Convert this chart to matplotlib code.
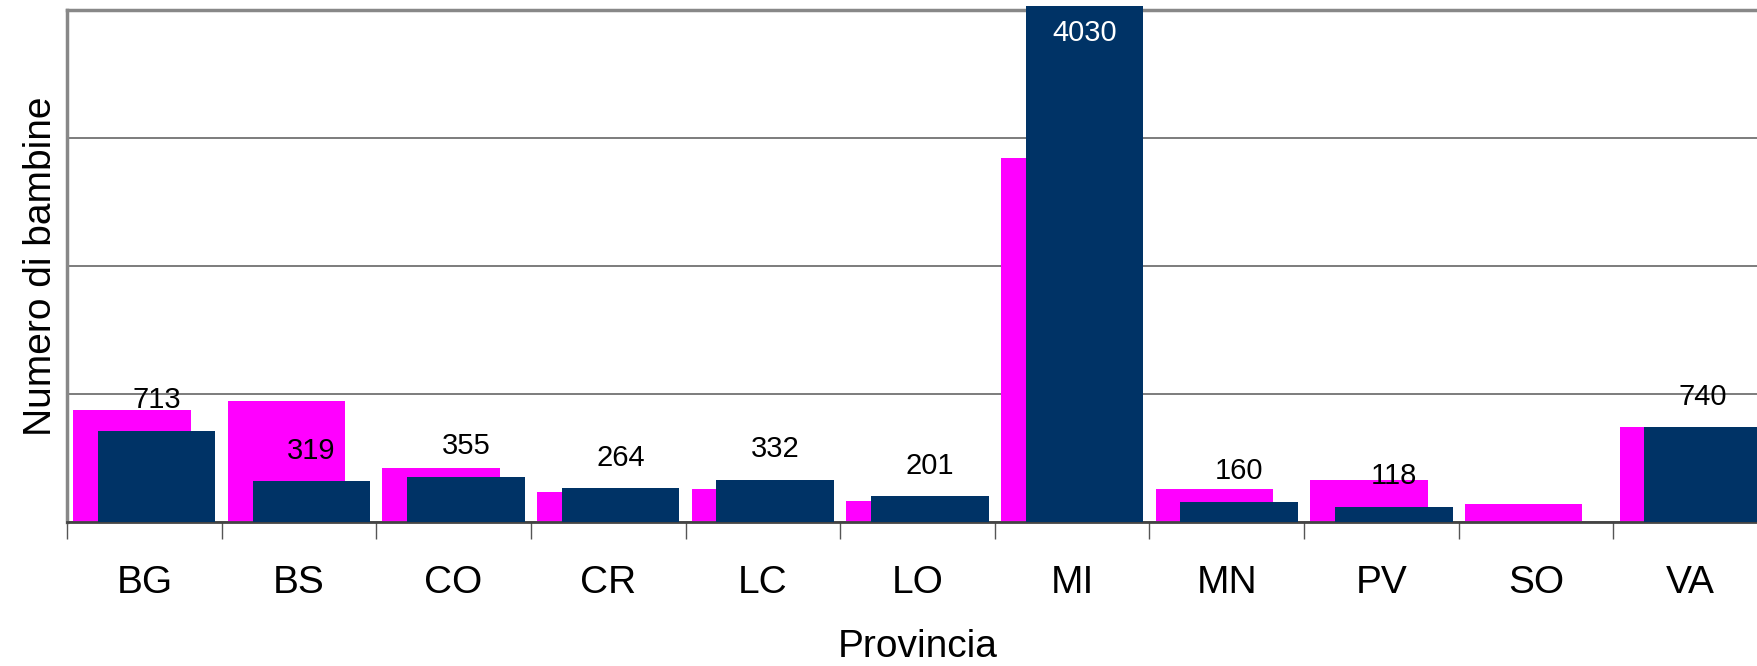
import numpy as np
import matplotlib
matplotlib.use("Agg")
import matplotlib.pyplot as plt

plt.rcParams['font.family'] = ['Liberation Sans', 'DejaVu Sans']

# dati
province = ['BG', 'BS', 'CO', 'CR', 'LC', 'LO', 'MI', 'MN', 'PV', 'SO', 'VA']
serie_magenta = [875, 947, 424, 235, 260, 162, 2842, 260, 330, 142, 740]
serie_blu = [713, 319, 355, 264, 332, 201, 4030, 160, 118, 0, 740]
etichette_blu = ['713', '319', '355', '264', '332', '201', '4030', '160', '118', '', '740']

y_max = 4000
y_step = 1000

fig = plt.figure(figsize=(17.58, 6.66), dpi=100)
ax = fig.add_axes([67 / 1758, 144 / 666, 1701 / 1758, 512 / 666])

x = np.arange(len(province))
w = 0.76
off = 0.08

ax.bar(x - off, serie_magenta, width=w, color='#FF00FF', zorder=2)
bars = ax.bar(x + off, serie_blu, width=w, color='#003366', zorder=3, clip_on=False)

for b, v, txt in zip(bars, serie_blu, etichette_blu):
    if not txt:
        continue
    cx = b.get_x() + b.get_width() / 2
    if v > y_max * 0.95:
        ax.annotate(txt, (cx, v), xytext=(0, -19), textcoords='offset points',
                    ha='center', va='center', fontsize=21, color='white', zorder=4,
                    annotation_clip=False)
    else:
        ax.annotate(txt, (cx, v), xytext=(0, 22), textcoords='offset points',
                    ha='center', va='center', fontsize=21, color='black', zorder=4)

ax.set_xlim(-0.5, len(province) - 0.5)
ax.set_ylim(0, y_max)

ax.set_yticks(np.arange(0, y_max + 1, y_step))
ax.yaxis.grid(True, color='#666666', linewidth=1.2, zorder=0)
ax.tick_params(axis='y', length=0, labelleft=False)

ax.set_xticks(x)
ax.set_xticklabels(province, fontsize=28)
ax.set_xticks(np.arange(-0.5, len(province), 1), minor=True)
ax.tick_params(axis='x', which='major', length=0, pad=31)
ax.tick_params(axis='x', which='minor', length=12, width=1, color='#555555')

ax.set_xlabel('Provincia', fontsize=28, labelpad=20)
ax.set_ylabel('Numero di bambine', fontsize=28, labelpad=6)

for s in ['top', 'left']:
    ax.spines[s].set_color('#888888')
    ax.spines[s].set_linewidth(2.5)
ax.spines['bottom'].set_color('#444444')
ax.spines['bottom'].set_linewidth(2)
ax.spines['right'].set_visible(False)
ax.set_axisbelow(True)

fig.savefig('out.png', dpi=100)
